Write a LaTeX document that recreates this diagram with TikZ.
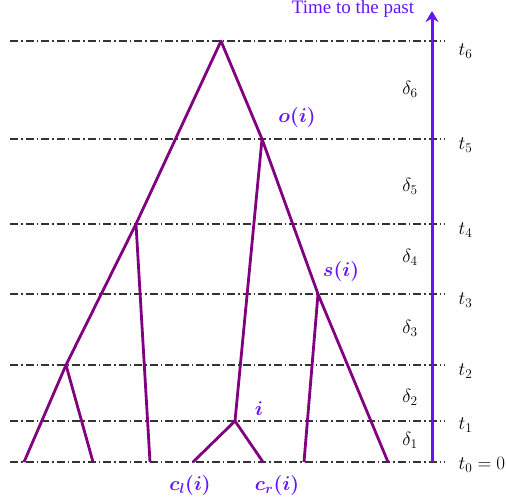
\RequirePackage{fix-cm}
\documentclass[tikz,border=0pt]{standalone}
\usepackage{amsmath}
\usepackage{bm}
\usepackage{fontspec}
\setmainfont{Liberation Serif}
\usetikzlibrary{arrows.meta}
\definecolor{tree}{RGB}{128,0,128}
\definecolor{lab}{RGB}{100,20,250}
\begin{document}
\begin{tikzpicture}[x=1pt,y=-1pt,
  level/.style={draw=black!80,line width=1.6pt,dash pattern=on 8pt off 3pt on 1.5pt off 3pt},
  br/.style={draw=tree,line width=2.8pt},
  nd/.style={coordinate},
  lbl/.style={text=lab,font=\fontsize{20}{20}\selectfont},
  tl/.style={font=\fontsize{19}{19}\selectfont,anchor=west},
  dl/.style={font=\fontsize{19}{19}\selectfont}]
\useasboundingbox (0,0) rectangle (506,499);
% levels
\foreach \n/\y in {6/41,5/139,4/224,3/294,2/365,1/421,0/462}{
  \coordinate (L\n) at (10,\y);
  \coordinate (R\n) at (445,\y);
  \draw[level] (L\n) -- (R\n);
}
% axis
\coordinate (A0) at (432,462);
\coordinate (A1) at (432,11);
\draw[draw=lab,line width=3pt,-{Stealth[length=11pt,width=13pt]}] (A0) -- (A1);
\node[text=lab,font=\fontsize{19}{19}\selectfont] (title) at (353,9) {Time to the past};
% time labels
\node[tl] (t6) at (455,51) {$t_6$};
\node[tl] (t5) at (455,145) {$t_5$};
\node[tl] (t4) at (455,230) {$t_4$};
\node[tl] (t3) at (455,300) {$t_3$};
\node[tl] (t2) at (455,371) {$t_2$};
\node[tl] (t1) at (455,425) {$t_1$};
\node[tl] (t0) at (455,465) {$t_0=0$};
\node[dl] (d6) at (410,89) {$\delta_6$};
\node[dl] (d5) at (410,186) {$\delta_5$};
\node[dl] (d4) at (410,257) {$\delta_4$};
\node[dl] (d3) at (410,328) {$\delta_3$};
\node[dl] (d2) at (410,397) {$\delta_2$};
\node[dl] (d1) at (410,440) {$\delta_1$};
% tree nodes
\node[nd] (root) at (221,41) {};
\node[nd] (a) at (136,224) {};
\node[nd] (b) at (66,365) {};
\node[nd] (o) at (262,139) {};
\node[nd] (s) at (318,294) {};
\node[nd] (i) at (235,421) {};
\node[nd] (l1) at (24,462) {};
\node[nd] (l2) at (93,462) {};
\node[nd] (l3) at (150,462) {};
\node[nd] (cl) at (193,462) {};
\node[nd] (cr) at (263,462) {};
\node[nd] (l6) at (304,462) {};
\node[nd] (l7) at (388,462) {};
\draw[br,line join=round] (l1) -- (b) -- (a) -- (root) -- (o) -- (s) -- (l7);
\draw[br] (b) -- (l2);
\draw[br] (a) -- (l3);
\draw[br] (o) -- (i);
\draw[br] (cl) -- (i) -- (cr);
\draw[br] (s) -- (l6);
% labels
\node[lbl] (oi) at (297,117) {$\bm{o(i)}$};
\node[lbl] (si) at (341,271) {$\bm{s(i)}$};
\node[lbl] (ii) at (259,409) {$\bm{i}$};
\node[lbl] (cli) at (190,485) {$\bm{c_l(i)}$};
\node[lbl] (cri) at (277,485) {$\bm{c_r(i)}$};
\end{tikzpicture}
\end{document}
